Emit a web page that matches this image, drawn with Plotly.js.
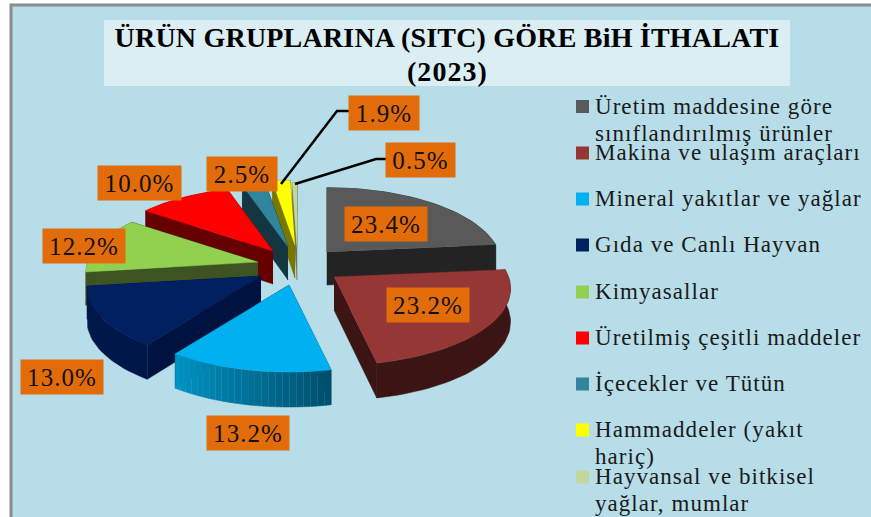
<!DOCTYPE html>
<html><head><meta charset="utf-8">
<script src="https://cdn.plot.ly/plotly-3.0.1.min.js"></script>
<style>html,body{margin:0;padding:0;background:#fff}
.annotation-text{letter-spacing:1.05px}
.gtitle{letter-spacing:0.2px}</style></head>
<body><div id="chart" style="width:871px;height:517px"></div>
<script>
const categories = ["Üretim maddesine göre<br>sınıflandırılmış ürünler","Makina ve ulaşım araçları","Mineral yakıtlar ve yağlar","Gıda ve Canlı Hayvan","Kimyasallar","Üretilmiş çeşitli maddeler","İçecekler ve Tütün","Hammaddeler (yakıt<br>hariç)","Hayvansal ve bitkisel<br>yağlar, mumlar"];
const values = [23.4,23.2,13.2,13.0,12.2,10.0,2.5,1.9,0.5];
const valueLabels = ["23.4%","23.2%","13.2%","13.0%","12.2%","10.0%","2.5%","1.9%","0.5%"];
const topColors = ["#595959","#953735","#00b0f0","#002060","#92d050","#ff0000","#31859c","#ffff00","#c4d79b"];
const wallColors = ["#232323","#3b1514","#00709a","#00174a","#3e5322","#660000","#143641","#777700","#6e7a55"];
const radialWallColors = ["#232323","#3b1514","#004f6e","#001340","#3e5322","#660000","#143641","#777700","#6e7a55"];
// Explosion of each slice from the pie centre (the same job as a pie trace's "pull")
const pullX = [34,41,-4,-32,-35,-20,-5,2,4];
const pullY = [-11,14,22,13,-1,-12,-16,-18,-16];
const radiusScale = [1,1.015,1,1,0.99,1,1,1,1];
const drawOrder = [8,7,6,0,5,4,3,2,1];
const labelX = [386,428,248,62,84,139.5,242,384,420];
const labelY = [223.5,305,433,377,246,183,174,112.5,160];
const labelW = [82,82,82,82,82,83,70,70,69];

const CX=293, CY=263, R=172, T=74, P=0.15, DEPTH=33;
const total = values.reduce((a,b)=>a+b,0);
const rad = d=>d*Math.PI/180;
let acc=0; const starts=[], ends=[];
values.forEach(v=>{starts.push(acc*360/total);acc+=v;ends.push(acc*360/total);});

function pt(i,r,deg,low){
  const c=Math.cos(rad(deg)), s=Math.sin(rad(deg));
  const rr=r*radiusScale[i], w=1+P*r*c;
  return [CX+pullX[i]+R*rr*s/w, CY+pullY[i]-T*rr*c/w+(low?DEPTH-2*r*c:0)];
}
function arc(i,a,b,low){
  const out=[], n=Math.max(2,Math.ceil(Math.abs(b-a)/2));
  for(let k=0;k<=n;k++) out.push(pt(i,1,a+(b-a)*k/n,low));
  return out;
}
function poly(pts,color){
  return {type:"scatter",mode:"lines",x:pts.map(p=>p[0]),y:pts.map(p=>p[1]),fill:"toself",fillcolor:color,
    line:{width:0.5,color:color},hoverinfo:"skip",showlegend:false};
}
function lerpHex(a,b,t){
  const pa=[1,3,5].map(k=>parseInt(a.substr(k,2),16)), pb=[1,3,5].map(k=>parseInt(b.substr(k,2),16));
  return "rgb("+pa.map((v,k)=>Math.round(v+(pb[k]-v)*t)).join(",")+")";
}
const traces=[];
drawOrder.forEach(i=>{
  const a=starts[i], b=ends[i];
  [a,b].forEach(e=>{
    traces.push(poly([pt(i,0,e,false),pt(i,1,e,false),pt(i,1,e,true),pt(i,0,e,true)],radialWallColors[i]));
  });
  if(i===2){
    const segs=24;
    for(let k=0;k<segs;k++){
      const t0=a+(b-a)*k/segs, t1=a+(b-a)*(k+1)/segs;
      traces.push(poly(arc(i,t0,t1,false).concat(arc(i,t1,t0,true)),lerpHex("#004f6e","#0093c4",k/(segs-1))));
    }
  } else {
    traces.push(poly(arc(i,a,b,false).concat(arc(i,b,a,true)),wallColors[i]));
  }
  traces.push(poly([pt(i,0,a,false)].concat(arc(i,a,b,false)),topColors[i]));
});
// legend swatches
const legendX=categories.map(()=>582.5);
const legendY=[106.5,153,199,245,292,338,384,430,477];
traces.push({type:"scatter",mode:"markers",x:legendX,y:legendY,hoverinfo:"skip",showlegend:false,
  marker:{symbol:"square",size:13,color:topColors,line:{width:0}}});

const annotations=[];
values.forEach((v,i)=>annotations.push({x:labelX[i],y:labelY[i],xref:"x",yref:"y",text:valueLabels[i],showarrow:false,
  width:labelW[i],height:34,bgcolor:"#e36c0a",borderpad:0,align:"center",valign:"middle",
  font:{family:"Liberation Serif",size:25,color:"#111"}}));
categories.forEach((c,i)=>c.split("<br>").forEach((line,l)=>annotations.push({x:593.5,y:legendY[i]-0.5+27*l,xref:"x",yref:"y",text:line,showarrow:false,
  xanchor:"left",yanchor:"middle",align:"left",borderpad:0,
  font:{family:"Liberation Serif",size:23,color:"#1a1a1a"}})));
annotations.push({x:447,y:71,xref:"x",yref:"y",text:"<b>(2023)</b>",showarrow:false,
  font:{family:"Liberation Serif",size:28,color:"#000"}});

const shapes=[
 {type:"rect",xref:"x",yref:"y",x0:11,y0:5,x1:890,y1:540,fillcolor:"#b7dde8",line:{color:"#8c8c8c",width:3},layer:"below"},
 {type:"rect",xref:"x",yref:"y",x0:104,y0:20,x1:790,y1:86,fillcolor:"#dbeef4",line:{width:0},layer:"below"},
 {type:"path",xref:"x",yref:"y",path:"M349,111 L337,111 L281,184",line:{color:"#000",width:2.5},layer:"above"},
 {type:"path",xref:"x",yref:"y",path:"M386,159 L376,159 L295,184",line:{color:"#000",width:2.5},layer:"above"}
];
const layout={width:871,height:517,margin:{l:0,r:0,t:0,b:0},paper_bgcolor:"#fff",plot_bgcolor:"rgba(0,0,0,0)",showlegend:false,
 title:{text:"<b>ÜRÜN GRUPLARINA (SITC) GÖRE BiH İTHALATI</b>",x:447/871,xanchor:"center",xref:"container",y:1-37/517,yanchor:"middle",yref:"container",
   font:{family:"Liberation Serif",size:28,color:"#000"}},
 xaxis:{range:[0,871],visible:false,fixedrange:true},
 yaxis:{range:[517,0],visible:false,fixedrange:true},
 shapes,annotations};
Plotly.newPlot("chart",traces,layout,{displayModeBar:false,staticPlot:true});
</script></body></html>
